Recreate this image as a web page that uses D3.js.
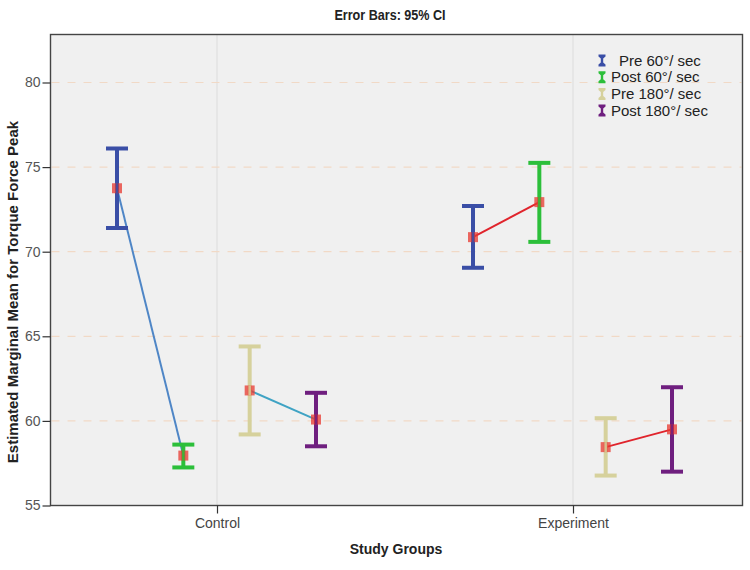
<!DOCTYPE html>
<html>
<head>
<meta charset="utf-8">
<script src="https://cdn.jsdelivr.net/npm/d3@7"></script>
<style>
  html, body { margin: 0; padding: 0; background: #ffffff; }
  svg { display: block; font-family: "Liberation Sans", Arial, sans-serif; }
</style>
</head>
<body>
<svg id="chart" width="750" height="570"></svg>
<script>
// ---- data ----
const groups = ["Control", "Experiment"];
const series = ["Pre 60°/ sec", "Post 60°/ sec", "Pre 180°/ sec", "Post 180°/ sec"];
const seriesColors = ["#3a4ea6", "#2cbf3a", "#d6d19c", "#6f1f7f"];
// means per series, [Control, Experiment]
const means = [
  [73.75, 70.86],
  [57.95, 72.93],
  [61.80, 58.45],
  [60.08, 59.50]
];
const lowerCI = [
  [71.40, 69.05],
  [57.25, 70.58],
  [59.20, 56.77],
  [58.50, 57.00]
];
const upperCI = [
  [76.10, 72.70],
  [58.60, 75.25],
  [64.40, 60.16],
  [61.66, 61.99]
];
// connecting lines: [from series, to series] and colour per group
const pairs = [[0, 1], [2, 3]];
const lineColors = {
  Control: ["#4f86c6", "#3fa3c4"],
  Experiment: ["#e0242c", "#e0242c"]
};
const yTicks = [55, 60, 65, 70, 75, 80];
const gridValues = [60, 65, 70, 75, 80];

// ---- layout ----
const svg = d3.select("#chart");
const plot = { left: 50.5, right: 742.5, top: 34.5, bottom: 505.5 };

const x = d3.scalePoint().domain(groups).range([217, 573]);
const xOff = d3.scalePoint().domain(series).range([-100, 99]);
const y = d3.scaleLinear().domain([55, 80]).range([505.5, 82.5]);

// background
svg.append("rect")
  .attr("x", plot.left).attr("y", plot.top)
  .attr("width", plot.right - plot.left).attr("height", plot.bottom - plot.top)
  .attr("fill", "#f0f0f0");

// vertical grid lines at groups
svg.append("g").selectAll("line").data(groups).join("line")
  .attr("x1", d => x(d)).attr("x2", d => x(d))
  .attr("y1", plot.top).attr("y2", plot.bottom)
  .attr("stroke", "#dcdcdc").attr("stroke-width", 1);

// horizontal dashed grid
svg.append("g").selectAll("line").data(gridValues).join("line")
  .attr("x1", plot.left + 1).attr("x2", plot.right - 1)
  .attr("y1", d => y(d)).attr("y2", d => y(d))
  .attr("stroke", "#f1d9c6").attr("stroke-width", 1.2)
  .attr("stroke-dasharray", "8,8");

// frame
svg.append("rect")
  .attr("x", plot.left).attr("y", plot.top)
  .attr("width", plot.right - plot.left).attr("height", plot.bottom - plot.top)
  .attr("fill", "none").attr("stroke", "#444").attr("stroke-width", 1.4);

// y axis
const yAxis = d3.axisLeft(y).tickValues(yTicks).tickSize(8).tickPadding(2).tickFormat(d3.format("d"));
const yg = svg.append("g").attr("transform", `translate(${plot.left},0)`).call(yAxis);
yg.select(".domain").remove();
yg.selectAll(".tick line").attr("stroke", "#333").attr("stroke-width", 1.2);
yg.selectAll(".tick text").attr("fill", "#555").style("font-size", "14px")
  .style("font-family", "'Liberation Sans', Arial, sans-serif");

// x axis
const xAxis = d3.axisBottom(x).tickSize(8).tickPadding(5);
const xg = svg.append("g").attr("transform", `translate(0,${plot.bottom})`).call(xAxis);
xg.select(".domain").remove();
xg.selectAll(".tick line").attr("stroke", "#333").attr("stroke-width", 1.2);
xg.selectAll(".tick text").attr("fill", "#444").style("font-size", "14px")
  .style("font-family", "'Liberation Sans', Arial, sans-serif");

// titles
svg.append("text").attr("transform", "translate(390,20) scale(0.9,1)").attr("text-anchor", "middle")
  .style("font-weight", "bold").style("font-size", "14px").attr("fill", "#222")
  .text("Error Bars: 95% CI");

svg.append("text").attr("x", 396).attr("y", 554).attr("text-anchor", "middle")
  .style("font-weight", "bold").style("font-size", "14px").attr("fill", "#222")
  .text("Study Groups");

svg.append("text")
  .attr("transform", `translate(18,292) rotate(-90)`)
  .attr("text-anchor", "middle")
  .style("font-weight", "bold").style("font-size", "15px").attr("fill", "#222")
  .text("Estimated Marginal Mean for Torque Force Peak");

// connecting lines
const lg = svg.append("g");
groups.forEach((g, gi) => {
  pairs.forEach((p, pi) => {
    lg.append("line")
      .attr("x1", x(g) + xOff(series[p[0]])).attr("y1", y(means[p[0]][gi]))
      .attr("x2", x(g) + xOff(series[p[1]])).attr("y2", y(means[p[1]][gi]))
      .attr("stroke", lineColors[g][pi]).attr("stroke-width", 2);
  });
});

// error bars
const capW = 22;
const eb = svg.append("g");
series.forEach((s, si) => {
  groups.forEach((g, gi) => {
    const cx = x(g) + xOff(s);
    const col = seriesColors[si];
    const grp = eb.append("g");
    grp.append("line").attr("x1", cx).attr("x2", cx)
      .attr("y1", y(lowerCI[si][gi])).attr("y2", y(upperCI[si][gi]))
      .attr("stroke", col).attr("stroke-width", 4);
    [lowerCI[si][gi], upperCI[si][gi]].forEach(v => {
      grp.append("line").attr("x1", cx - capW / 2).attr("x2", cx + capW / 2)
        .attr("y1", y(v)).attr("y2", y(v))
        .attr("stroke", col).attr("stroke-width", 4);
    });
    // mean marker
    grp.append("rect").attr("x", cx - 5).attr("y", y(means[si][gi]) - 5)
      .attr("width", 10).attr("height", 10)
      .attr("fill", "#e8382f").attr("opacity", 0.75);
    grp.append("line").attr("x1", cx).attr("x2", cx)
      .attr("y1", y(means[si][gi]) - 5).attr("y2", y(means[si][gi]) + 5)
      .attr("stroke", col).attr("stroke-width", 2.5).attr("opacity", 0.85);
  });
});

// legend
const leg = svg.append("g");
series.forEach((s, i) => {
  const ly = 60.5 + i * 16.7;
  const ix = 602;
  leg.append("path")
    .attr("d", `M${ix - 3.5},${ly - 6} L${ix + 3.5},${ly - 6} L${ix + 3.5},${ly - 4} L${ix + 1.2},${ly - 2} L${ix + 1.2},${ly + 2} L${ix + 3.5},${ly + 4} L${ix + 3.5},${ly + 6} L${ix - 3.5},${ly + 6} L${ix - 3.5},${ly + 4} L${ix - 1.2},${ly + 2} L${ix - 1.2},${ly - 2} L${ix - 3.5},${ly - 4} Z`)
    .attr("fill", seriesColors[i]);
  leg.append("text").attr("x", i === 0 ? 619 : 611).attr("y", ly + 5)
    .style("font-size", "15px").attr("fill", "#222")
    .text(s);
});
</script>
</body>
</html>
